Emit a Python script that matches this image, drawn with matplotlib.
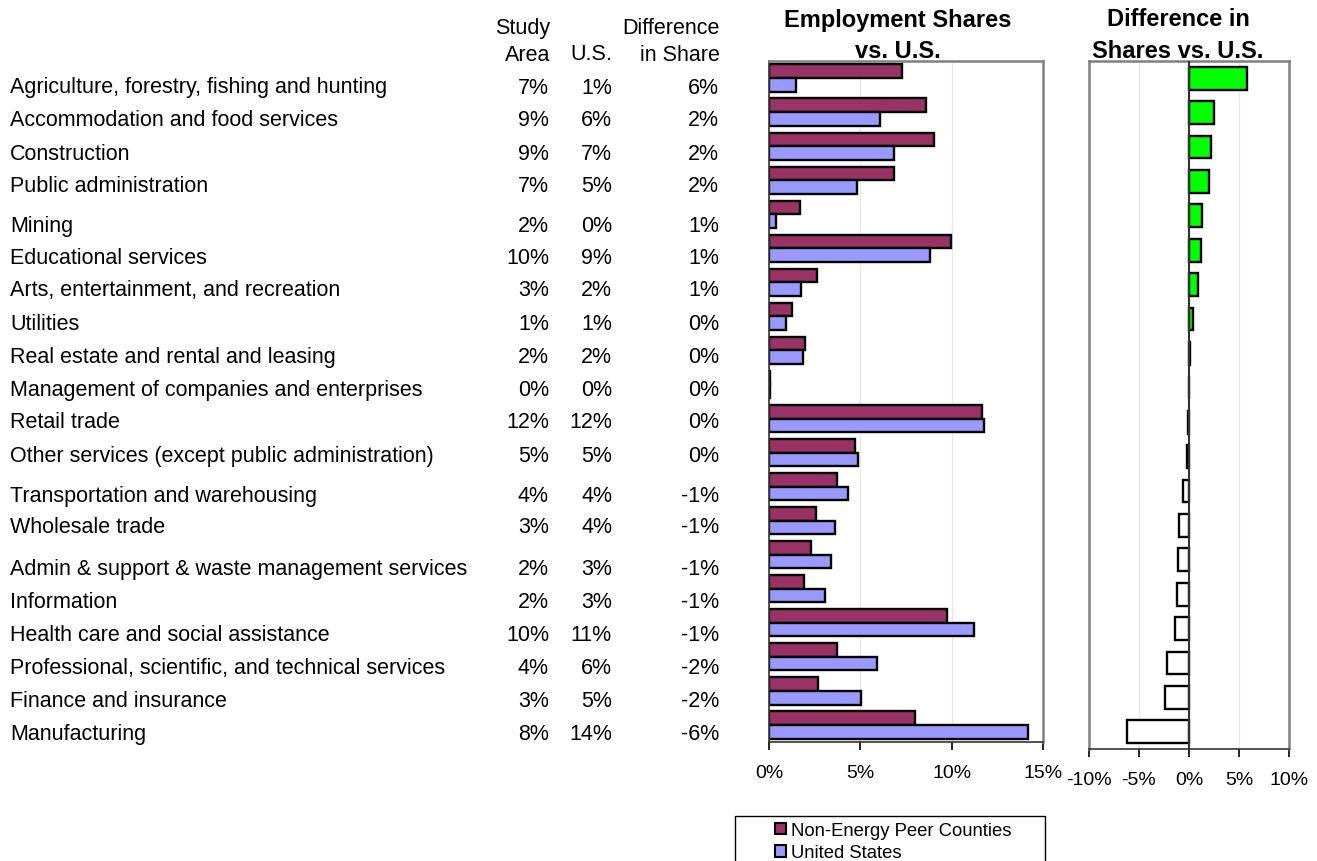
import matplotlib
matplotlib.use('Agg')
import matplotlib.pyplot as plt
import numpy as np
from matplotlib.patches import Rectangle, Patch
from matplotlib.ticker import FuncFormatter

plt.rcParams['font.family'] = ['Liberation Sans', 'DejaVu Sans']

industries = ['Agriculture, forestry, fishing and hunting',
              'Accommodation and food services',
              'Construction',
              'Public administration',
              'Mining',
              'Educational services',
              'Arts, entertainment, and recreation',
              'Utilities',
              'Real estate and rental and leasing',
              'Management of companies and enterprises',
              'Retail trade',
              'Other services (except public administration)',
              'Transportation and warehousing',
              'Wholesale trade',
              'Admin & support & waste management services',
              'Information',
              'Health care and social assistance',
              'Professional, scientific, and technical services',
              'Finance and insurance',
              'Manufacturing']

# employment shares in %
peer = [7.28, 8.6, 9.03, 6.84, 1.7, 9.96, 2.63, 1.26, 1.97, 0.05,
        11.66, 4.7, 3.72, 2.57, 2.3, 1.92, 9.74, 3.72, 2.68, 7.99]
us = [1.48, 6.07, 6.84, 4.82, 0.38, 8.8, 1.75, 0.93, 1.86, 0.05,
      11.77, 4.87, 4.32, 3.61, 3.39, 3.07, 11.22, 5.91, 5.04, 14.18]
diff = [5.8, 2.45, 2.2, 2.0, 1.3, 1.2, 0.9, 0.35, 0.1, 0.0,
        -0.1, -0.17, -0.6, -1.0, -1.1, -1.2, -1.45, -2.2, -2.4, -6.2]

W, H = 1317, 862
fig = plt.figure(figsize=(W/100, H/100), dpi=100)

def fx(px):
    return px / W

def fy(py):
    return 1 - py / H

# the table cells sit a little unevenly (spreadsheet rows), baselines in px
row_base = [93.5, 126.5, 159.5, 192, 232, 263.5, 296.5, 330, 363, 396,
            428, 462, 502, 533, 575, 608, 641, 674, 707, 740]

peer_col = '#993366'
us_col = '#9999ff'
spine_gray = '#808080'
fs = 15.5
n = len(industries)
y = np.arange(n)

# left panel: shares
ax1 = fig.add_axes([fx(769), fy(743), fx(1043 - 769), (743 - 62) / H])
ax1.barh(y - 0.2, peer, height=0.4, color=peer_col, edgecolor='black', lw=1.7)
ax1.barh(y + 0.2, us, height=0.4, color=us_col, edgecolor='black', lw=1.7)
ax1.set_xlim(0, 15)
ax1.set_xticks([0, 5, 10, 15])
ax1.set_ylim(n - 0.5, -0.5)

# right panel: difference
ax2 = fig.add_axes([fx(1089), fy(750), fx(1289 - 1089), (750 - 62) / H])
cols = ['#00ff00' if d > 0 else 'white' for d in diff]
ax2.barh(y, diff, height=0.66, color=cols, edgecolor='black', lw=1.7, zorder=3)
ax2.axvline(0, color='#333333', lw=1.5, zorder=4)
ax2.set_xlim(-10, 10)
ax2.set_xticks([-10, -5, 0, 5, 10])
ax2.set_ylim(n - 0.5, -0.5)

for ax in (ax1, ax2):
    ax.set_yticks([])
    ax.xaxis.set_major_formatter(FuncFormatter(lambda v, p: '%d%%' % v))
    ax.tick_params(axis='x', direction='out', length=6, width=1.2, labelsize=14, pad=10)
    ax.grid(axis='x', color='#e6e6e6', lw=0.8)
    ax.set_axisbelow(True)
    for s in ('top', 'right', 'left'):
        ax.spines[s].set_color(spine_gray)
        ax.spines[s].set_linewidth(1.8)
    ax.spines['bottom'].set_color('#333333')
    ax.spines['bottom'].set_linewidth(1.2)
ax1.spines['left'].set_color('#333333')
ax1.spines['left'].set_linewidth(1.2)

# titles
fig.text(fx(898), fy(36), 'Employment Shares\nvs. U.S.', ha='center', va='center',
         fontsize=17, fontweight='bold', linespacing=1.5)
fig.text(fx(1178), fy(36), 'Difference in\nShares vs. U.S.', ha='center', va='center',
         fontsize=17, fontweight='bold', linespacing=1.5)

# table headers
fig.text(fx(550), fy(42), 'Study\nArea', ha='right', va='center', multialignment='right',
         fontsize=fs, linespacing=1.35)
fig.text(fx(612), fy(54), 'U.S.', ha='right', va='center', fontsize=fs)
fig.text(fx(720), fy(42), 'Difference\nin Share', ha='right', va='center',
         multialignment='right', fontsize=fs, linespacing=1.35)

# table rows
for i in range(n):
    ty = fy(row_base[i])
    fig.text(fx(10), ty, industries[i], ha='left', va='baseline', fontsize=fs)
    fig.text(fx(549), ty, '%d%%' % round(peer[i]), ha='right', va='baseline', fontsize=fs)
    fig.text(fx(612), ty, '%d%%' % round(us[i]), ha='right', va='baseline', fontsize=fs)
    fig.text(fx(719), ty, '%d%%' % round(diff[i]), ha='right', va='baseline', fontsize=fs)

# legend
fig.patches.append(Rectangle((fx(735), -0.01), fx(1045 - 735), (862 - 817) / H + 0.01,
                             transform=fig.transFigure, fill=False, edgecolor='black', lw=1.0))
handles = [Patch(facecolor=peer_col, edgecolor='black', lw=1.5),
           Patch(facecolor=us_col, edgecolor='black', lw=1.5)]
fig.legend(handles, ['Non-Energy Peer Counties', 'United States'], loc='upper left',
           bbox_to_anchor=(fx(762), fy(810)), frameon=False, fontsize=13.3,
           handlelength=0.6, handleheight=0.6, handletextpad=0.25, labelspacing=0.3,
           borderpad=0.2)

fig.savefig('out.png', dpi=100)
